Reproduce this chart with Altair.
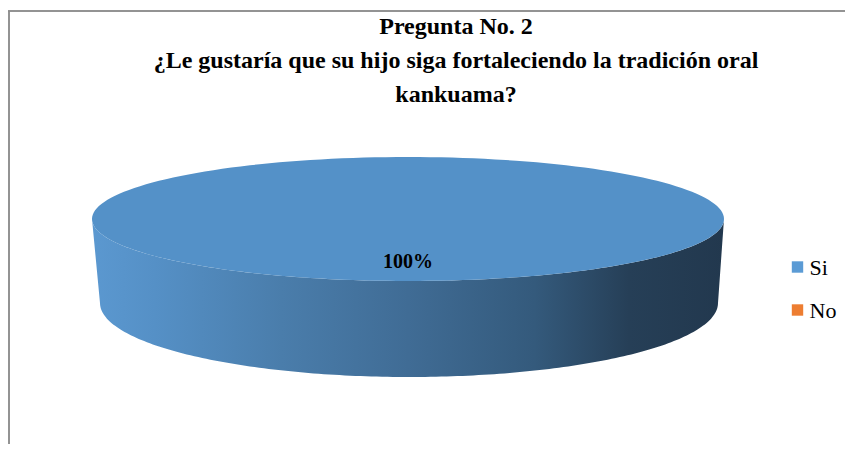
import altair as alt
import pandas as pd

# ---- data ----
categories = ["Si", "No"]
values = [100, 0]
legend_colors = ["#5b9bd5", "#ed7d31"]
face_colors = ["#5491c8", "#e07530"]
title_lines = [
    "Pregunta No. 2",
    "¿Le gustaría que su hijo siga fortaleciendo la tradición oral",
    "kankuama?",
]

# ---- layout (pixels in chart space) ----
W, H = 837, 436
CX, CY, RX, RY = 400, 211, 316, 62      # top face ellipse
BCX, BCY, BRX, BRY = 401, 295, 309, 74  # bottom rim ellipse
N = 180
FONT = "Liberation Serif"
LEG_X, LEG_Y, LEG_STEP = 789.5, 259, 43

df = pd.DataFrame({"cat": categories, "val": values, "ord": list(range(len(categories)))})
tdf = pd.DataFrame({"line": title_lines, "row": list(range(len(title_lines)))})

xs = alt.Scale(domain=[0, W], range=[0, W])
ys = alt.Scale(domain=[0, H], range=[0, H])

base = (
    alt.Chart(df)
    .transform_window(cum="sum(val)", sort=[alt.SortField("ord")], frame=[None, 0])
    .transform_joinaggregate(total="sum(val)")
    .transform_calculate(
        a1="-PI/2 + 2*PI*datum.cum/datum.total",
        a0="-PI/2 + 2*PI*(datum.cum - datum.val)/datum.total",
    )
    .transform_filter("datum.val > 0")
)

# side (front rim) polygon
side = (
    base.transform_calculate(ts="max(datum.a0, 0)", te="min(datum.a1, PI)")
    .transform_filter("datum.te > datum.ts")
    .transform_calculate(k=f"sequence(0, {2 * N + 2})")
    .transform_flatten(["k"])
    .transform_calculate(
        t=f"datum.k <= {N} ? datum.ts + (datum.te - datum.ts)*datum.k/{N} : datum.ts + (datum.te - datum.ts)*({2 * N + 1} - datum.k)/{N}",
    )
    .transform_calculate(
        px=f"datum.k <= {N} ? {CX} + {RX}*cos(datum.t) : {BCX} + {BRX}*cos(datum.t)",
        py=f"datum.k <= {N} ? {CY} + {RY}*sin(datum.t) : {BCY} + {BRY}*sin(datum.t)",
    )
    .mark_line(
        fill=alt.Gradient(
            gradient="linear",
            stops=[
                alt.GradientStop(color="#5b98d0", offset=0),
                alt.GradientStop(color="#5590c6", offset=0.1),
                alt.GradientStop(color="#4a7dab", offset=0.3),
                alt.GradientStop(color="#406c95", offset=0.5),
                alt.GradientStop(color="#345a7c", offset=0.7),
                alt.GradientStop(color="#263f57", offset=0.85),
                alt.GradientStop(color="#22384e", offset=1),
            ],
            x1=0, x2=1, y1=0, y2=0,
        ),
        strokeOpacity=0,
    )
    .encode(
        x=alt.X("px:Q", scale=xs, axis=None),
        y=alt.Y("py:Q", scale=ys, axis=None),
        order="k:Q",
        detail="cat:N",
    )
)

# top face polygon
top = (
    base.transform_calculate(k=f"sequence(0, {N + 2})")
    .transform_flatten(["k"])
    .transform_calculate(t=f"datum.a0 + (datum.a1 - datum.a0)*(datum.k - 1)/{N}")
    .transform_calculate(
        px=f"datum.k == 0 ? {CX} : {CX} + {RX}*cos(datum.t)",
        py=f"datum.k == 0 ? {CY} : {CY} + {RY}*sin(datum.t)",
    )
    .mark_line(strokeOpacity=0)
    .encode(
        x=alt.X("px:Q", scale=xs, axis=None),
        y=alt.Y("py:Q", scale=ys, axis=None),
        order="k:Q",
        detail="cat:N",
        fill=alt.Fill("cat:N", scale=alt.Scale(domain=categories, range=face_colors), legend=None),
    )
)

label = (
    base.transform_calculate(
        am="(datum.a0 + datum.a1)/2",
    )
    .transform_calculate(
        px=f"{CX} + 0.7*{RX}*cos(datum.am)",
        py=f"{CY} + 0.7*{RY}*sin(datum.am)",
        txt="format(datum.val/datum.total, '.0%')",
    )
    .mark_text(font=FONT, fontSize=20, fontWeight="bold", color="#000000", baseline="middle")
    .encode(
        x=alt.X("px:Q", scale=xs, axis=None),
        y=alt.Y("py:Q", scale=ys, axis=None),
        text="txt:N",
    )
)

# legend drawn from the category list
leg_base = alt.Chart(df).transform_calculate(
    ly=f"{LEG_Y} + {LEG_STEP}*datum.ord", lx=f"{LEG_X}", tx=f"{LEG_X + 12}"
)
leg_sym = leg_base.mark_square(size=130, opacity=1).encode(
    x=alt.X("lx:Q", scale=xs, axis=None),
    y=alt.Y("ly:Q", scale=ys, axis=None),
    color=alt.Color("cat:N", scale=alt.Scale(domain=categories, range=legend_colors), legend=None),
)
leg_txt = leg_base.mark_text(
    font=FONT, fontSize=22, color="#000000", align="left", baseline="middle", dy=1
).encode(
    x=alt.X("tx:Q", scale=xs, axis=None),
    y=alt.Y("ly:Q", scale=ys, axis=None),
    text="cat:N",
)

title = (
    alt.Chart(tdf)
    .transform_calculate(py="19 + 34*datum.row", px="448")
    .mark_text(font=FONT, fontSize=24, fontWeight="bold", color="#000000", baseline="middle")
    .encode(
        x=alt.X("px:Q", scale=xs, axis=None),
        y=alt.Y("py:Q", scale=ys, axis=None),
        text="line:N",
    )
)

border_top = alt.Chart(df).mark_rule(color="#8c8c8c", strokeWidth=1.5).encode(
    x=alt.value(0), x2=alt.value(W), y=alt.value(3)
)
border_left = alt.Chart(df).mark_rule(color="#8c8c8c", strokeWidth=1.5).encode(
    x=alt.value(1), y=alt.value(3), y2=alt.value(H)
)

chart = (
    alt.layer(border_top, border_left, side, top, label, title, leg_sym, leg_txt)
    .properties(width=W, height=H, autosize=alt.AutoSizeParams(type="none"), padding=0, background="white")
    .configure_view(stroke=None)
)

chart.save("out.html", embed_options={"renderer": "svg", "actions": False})
